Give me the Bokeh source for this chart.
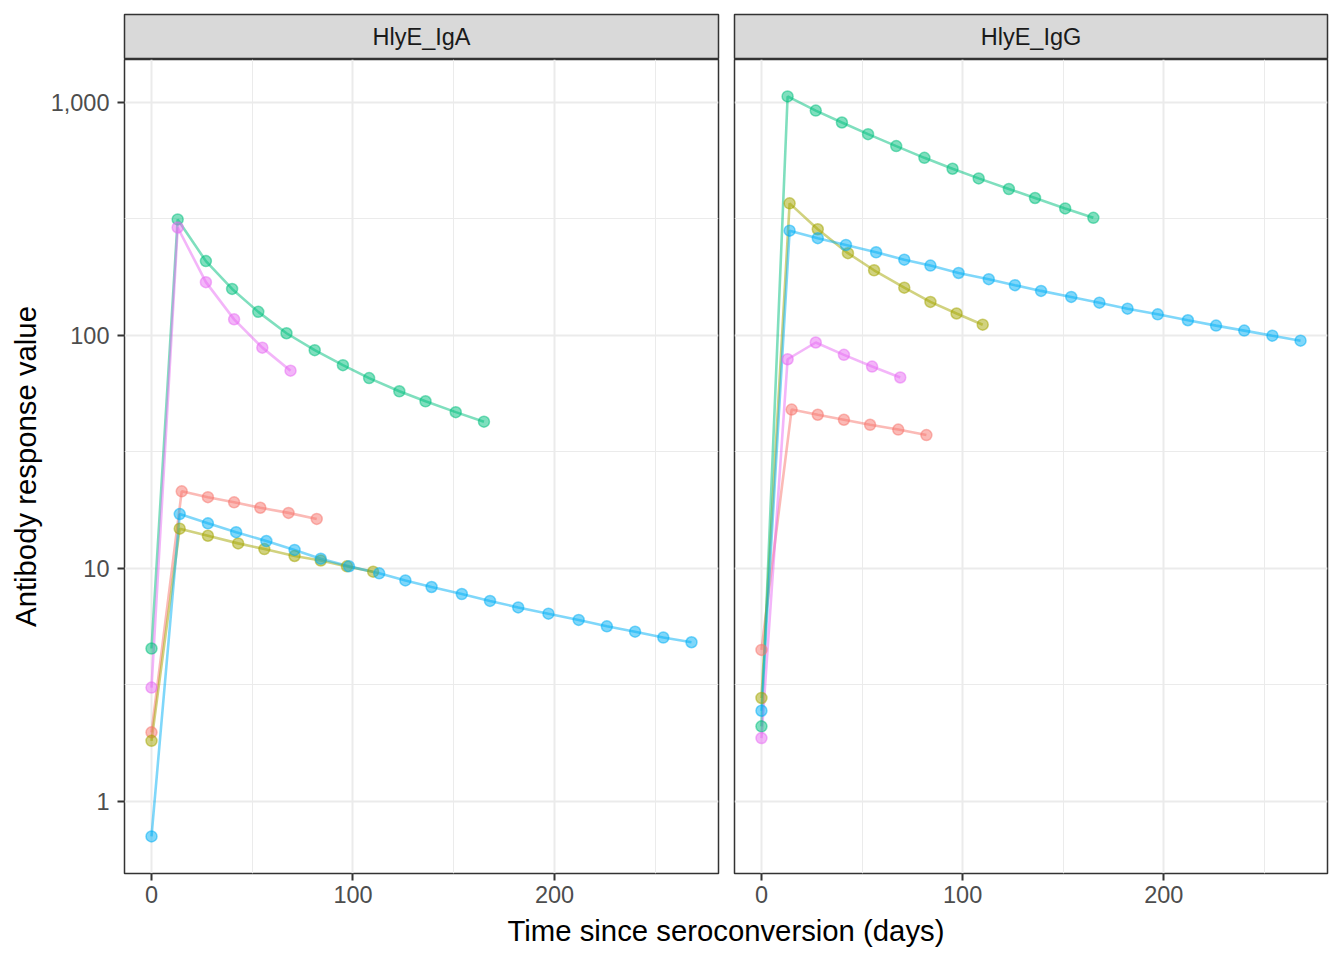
from bokeh.plotting import figure
from bokeh.layouts import row, column
from bokeh.models import Range1d, FixedTicker
from bokeh.embed import file_html
from bokeh.resources import INLINE
from bokeh.core.properties import value

FONT = "Liberation Sans"

panels = ["HlyE_IgA", "HlyE_IgG"]
series_ids = ["s1", "s2", "s3", "s4", "s5"]
colors = ["#F8766D", "#A3A500", "#00BF7D", "#00B0F6", "#E76BF3"]

# sampling days per subject (shared across both antigens)
days_s1 = [0, 15, 28, 41, 54, 68, 82]
days_s2 = [0, 14, 28, 43, 56, 71, 84, 97, 110]
days_s3 = [0, 13, 27, 40, 53, 67, 81, 95, 108, 123, 136, 151, 165]
days_s4 = [0, 14, 28, 42, 57, 71, 84, 98, 113, 126, 139, 154, 168, 182, 197, 212, 226, 240, 254, 268]
days_s5 = [0, 13, 27, 41, 55, 69]

# HlyE_IgA values
iga_s1 = [1.98, 21.4, 20.2, 19.2, 18.2, 17.3, 16.3]
iga_s2 = [1.82, 14.8, 13.8, 12.8, 12.1, 11.3, 10.8, 10.2, 9.68]
iga_s3 = [4.53, 314, 208, 158, 126, 102, 86.3, 74.4, 65.5, 57.5, 52.1, 46.8, 42.6]
iga_s4 = [0.708, 17.1, 15.6, 14.3, 13.1, 12.0, 11.0, 10.2, 9.52, 8.88, 8.32, 7.76, 7.25, 6.8, 6.39, 6.01, 5.64, 5.35, 5.05, 4.82]
iga_s5 = [3.08, 290, 169, 117, 88.5, 70.5]

# HlyE_IgG values
igg_s1 = [4.47, 48.0, 45.6, 43.4, 41.3, 39.4, 37.3]
igg_s2 = [2.78, 368, 285, 225, 190, 160, 139, 124, 111]
igg_s3 = [2.10, 1058, 920, 818, 729, 648, 577, 518, 471, 424, 388, 350, 319]
igg_s4 = [2.45, 281, 261, 244, 227, 211, 199, 185, 174, 164, 155, 146, 138, 130, 123, 116, 110, 104.7, 99.6, 94.8]
igg_s5 = [1.87, 78.9, 93.1, 82.4, 73.4, 65.9]

x_ticks = [0, 100, 200]
x_tick_labels = ["0", "100", "200"]
x_minor = [50, 150, 250]
y_ticks = [1, 10, 100, 1000]
y_tick_labels = ["1", "10", "100", "1,000"]
y_minor = [0.3162, 3.162, 31.62, 316.2]

x_title = "Time since seroconversion (days)"
y_title = "Antibody response value"

days_all = [days_s1, days_s2, days_s3, days_s4, days_s5]
values_by_panel = {
    "HlyE_IgA": [iga_s1, iga_s2, iga_s3, iga_s4, iga_s5],
    "HlyE_IgG": [igg_s1, igg_s2, igg_s3, igg_s4, igg_s5],
}

X_RANGE = (-13.4, 281.4)
Y_RANGE = (10 ** -0.309, 10 ** 3.183)

LEFT_BORDER = 124
GAP_L = 8
GAP_R = 8
FRAME_H = 814


def strip_fig(label, left):
    s = figure(frame_width=594 if left else 593, frame_height=45,
               x_range=Range1d(0, 1), y_range=Range1d(0, 1),
               x_axis_location=None, y_axis_location=None,
               toolbar_location=None, output_backend="svg",
               min_border_left=LEFT_BORDER if left else GAP_R, min_border_right=GAP_L,
               min_border_top=14, min_border_bottom=0)
    s.grid.visible = False
    s.background_fill_color = "#D9D9D9"
    s.outline_line_color = "#333333"
    s.outline_line_width = 1.5
    s.text(x=[0.5], y=[0.5], text=[label], text_align="center",
           text_baseline="middle", text_font=value(FONT),
           text_font_size=value("23.5px"), text_color="#1A1A1A")
    return s


def panel_fig(name, left):
    p = figure(frame_width=594 if left else 593, frame_height=FRAME_H,
               x_range=Range1d(*X_RANGE), y_range=Range1d(*Y_RANGE),
               y_axis_type="log", toolbar_location=None, output_backend="svg",
               min_border_left=LEFT_BORDER if left else GAP_R, min_border_right=GAP_L,
               min_border_top=0, min_border_bottom=39)
    p.outline_line_color = "#333333"
    p.outline_line_width = 1.5

    p.xaxis.ticker = FixedTicker(ticks=x_ticks, minor_ticks=x_minor)
    p.xaxis.major_label_overrides = {t: l for t, l in zip(x_ticks, x_tick_labels)}
    p.yaxis.ticker = FixedTicker(ticks=y_ticks, minor_ticks=y_minor)
    p.yaxis.major_label_overrides = {t: l for t, l in zip(y_ticks, y_tick_labels)}

    for ax in (p.xaxis, p.yaxis):
        ax.axis_line_color = None
        ax.major_tick_out = 7
        ax.major_tick_in = 0
        ax.minor_tick_out = 0
        ax.minor_tick_in = 0
        ax.minor_tick_line_color = None
        ax.major_tick_line_color = "#333333"
        ax.major_tick_line_width = 2
        ax.major_label_text_font = FONT
        ax.major_label_text_font_size = "23.5px"
        ax.major_label_text_color = "#4D4D4D"
    p.xaxis.major_label_standoff = 5
    p.yaxis.major_label_standoff = 8

    if left:
        p.yaxis.axis_label = y_title
        p.yaxis.axis_label_text_font = FONT
        p.yaxis.axis_label_text_font_size = "29.3px"
        p.yaxis.axis_label_text_font_style = "normal"
        p.yaxis.axis_label_text_color = "black"
        p.yaxis.axis_label_standoff = 6
    else:
        p.yaxis.visible = False

    for g in (p.xgrid, p.ygrid):
        g.grid_line_color = "#EBEBEB"
        g.grid_line_width = 2
        g.minor_grid_line_color = "#EBEBEB"
        g.minor_grid_line_width = 1

    vals = values_by_panel[name]
    for d, v, c in zip(days_all, vals, colors):
        p.line(d, v, line_color=c, line_alpha=0.5, line_width=2.6)
    for d, v, c in zip(days_all, vals, colors):
        p.scatter(d, v, size=11, fill_color=c, fill_alpha=0.5,
                  line_color=c, line_alpha=0.5, line_width=1.5)
    return p


sL = strip_fig(panels[0], True)
pL = panel_fig(panels[0], True)
sR = strip_fig(panels[1], False)
pR = panel_fig(panels[1], False)

total_w = LEFT_BORDER + 594 + GAP_L + GAP_R + 593 + GAP_L
xt = figure(width=total_w, height=42, x_range=Range1d(0, 1), y_range=Range1d(0, 1),
            x_axis_location=None, y_axis_location=None,
            toolbar_location=None, output_backend="svg", min_border=0)
xt.grid.visible = False
xt.outline_line_color = None
title_center = LEFT_BORDER + (594 + GAP_L + GAP_R + 593) / 2
xt.text(x=[title_center / total_w], y=[0.571], text=[x_title], text_align="center",
        text_baseline="middle", text_font=value(FONT),
        text_font_size=value("29.3px"), text_color="black")

layout = column(row(column(sL, pL), column(sR, pR)), xt)

open("out.html", "w").write(file_html(layout, INLINE))
